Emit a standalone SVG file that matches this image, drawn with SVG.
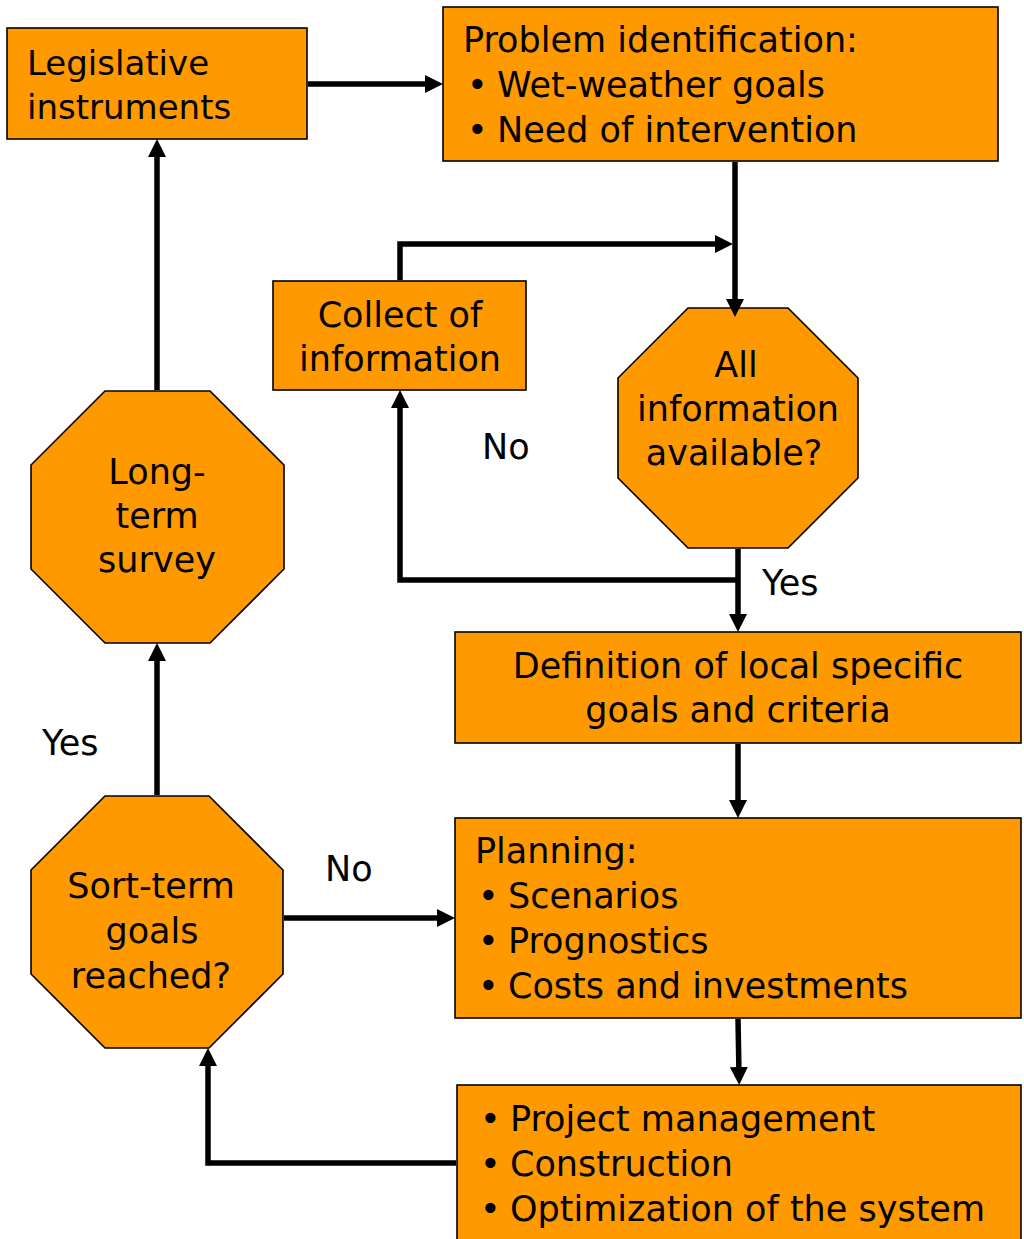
<svg xmlns="http://www.w3.org/2000/svg" width="1024" height="1239" viewBox="0 0 1024 1239">
<defs>
<marker id="ah" viewBox="0 0 18 18" refX="8" refY="9" markerWidth="18" markerHeight="18" markerUnits="userSpaceOnUse" orient="auto">
<path d="M0,0 L18,9 L0,18 z" fill="#000"/>
</marker>
<style>
.box{fill:#FF9900;stroke:#000;stroke-width:1.6}
.t{font-family:"DejaVu Sans","Liberation Sans",sans-serif;font-size:35px;fill:#000}
.s{font-size:34px}
.c{text-anchor:middle}
.con{fill:none;stroke:#000;stroke-width:5.5;stroke-linejoin:miter;marker-end:url(#ah)}
</style>
</defs>
<rect width="1024" height="1239" fill="#fff"/>
<g id="legislative">
<rect class="box" x="7" y="28" width="300" height="111"/>
<text class="t s" x="27" y="75">Legislative</text>
<text class="t s" x="27" y="119">instruments</text>
</g>
<g id="problem">
<rect class="box" x="443" y="7" width="555" height="154"/>
<text class="t" x="463" y="52">Problem identification:</text>
<text class="t" x="467" y="97">•</text><text class="t" x="497" y="97">Wet-weather goals</text>
<text class="t" x="467" y="142">•</text><text class="t" x="497" y="142">Need of intervention</text>
</g>
<g id="collect">
<rect class="box" x="273" y="281" width="253" height="109"/>
<text class="t c" x="400" y="327">Collect of</text>
<text class="t c" x="400" y="371">information</text>
</g>
<g id="allinfo">
<polygon class="box" points="688,308 788,308 858,378 858,478 788,548 688,548 618,478 618,378"/>
<text class="t c" x="736" y="377">All</text>
<text class="t c" x="738" y="421">information</text>
<text class="t c" x="734" y="465">available?</text>
</g>
<g id="labels">
<text class="t" x="482" y="459">No</text>
<text class="t" x="762" y="595">Yes</text>
<text class="t" x="42" y="755">Yes</text>
<text class="t" x="325" y="881">No</text>
</g>
<g id="definition">
<rect class="box" x="455" y="632" width="566" height="111"/>
<text class="t c" x="738" y="678">Definition of local specific</text>
<text class="t c" x="738" y="722">goals and criteria</text>
</g>
<g id="planning">
<rect class="box" x="455" y="818" width="566" height="200"/>
<text class="t" x="475" y="863">Planning:</text>
<text class="t" x="478" y="908">•</text><text class="t" x="508" y="908">Scenarios</text>
<text class="t" x="478" y="953">•</text><text class="t" x="508" y="953">Prognostics</text>
<text class="t" x="478" y="998">•</text><text class="t" x="508" y="998">Costs and investments</text>
</g>
<g id="project">
<rect class="box" x="457" y="1085" width="564" height="170"/>
<text class="t" x="480" y="1131">•</text><text class="t" x="510" y="1131">Project management</text>
<text class="t" x="480" y="1176">•</text><text class="t" x="510" y="1176">Construction</text>
<text class="t" x="480" y="1221">•</text><text class="t" x="510" y="1221">Optimization of the system</text>
</g>
<g id="longterm">
<polygon class="box" points="105,391 210,391 284,465 284,569 210,643 105,643 31,569 31,465"/>
<text class="t c" x="157" y="484">Long-</text>
<text class="t c" x="157" y="528">term</text>
<text class="t c" x="157" y="572">survey</text>
</g>
<g id="sortterm">
<polygon class="box" points="105,796 209,796 283,870 283,974 209,1048 105,1048 31,974 31,870"/>
<text class="t c" x="151" y="898">Sort-term</text>
<text class="t c" x="152" y="943">goals</text>
<text class="t c" x="151" y="988">reached?</text>
</g>
<g id="connectors">
<path class="con" d="M308,84 H433"/>
<path class="con" d="M735,162 V307"/>
<path class="con" d="M400,280 V244 H723"/>
<path class="con" d="M738,549 V622"/>
<path class="con" d="M738,580 H400 V400"/>
<path class="con" d="M738,744 V808"/>
<path class="con" d="M284,918 H445"/>
<path class="con" d="M738,1019 L739,1075"/>
<path class="con" d="M456,1163 H208 V1058"/>
<path class="con" d="M157,795 V653"/>
<path class="con" d="M157,390 V149"/>
</g>
</svg>
